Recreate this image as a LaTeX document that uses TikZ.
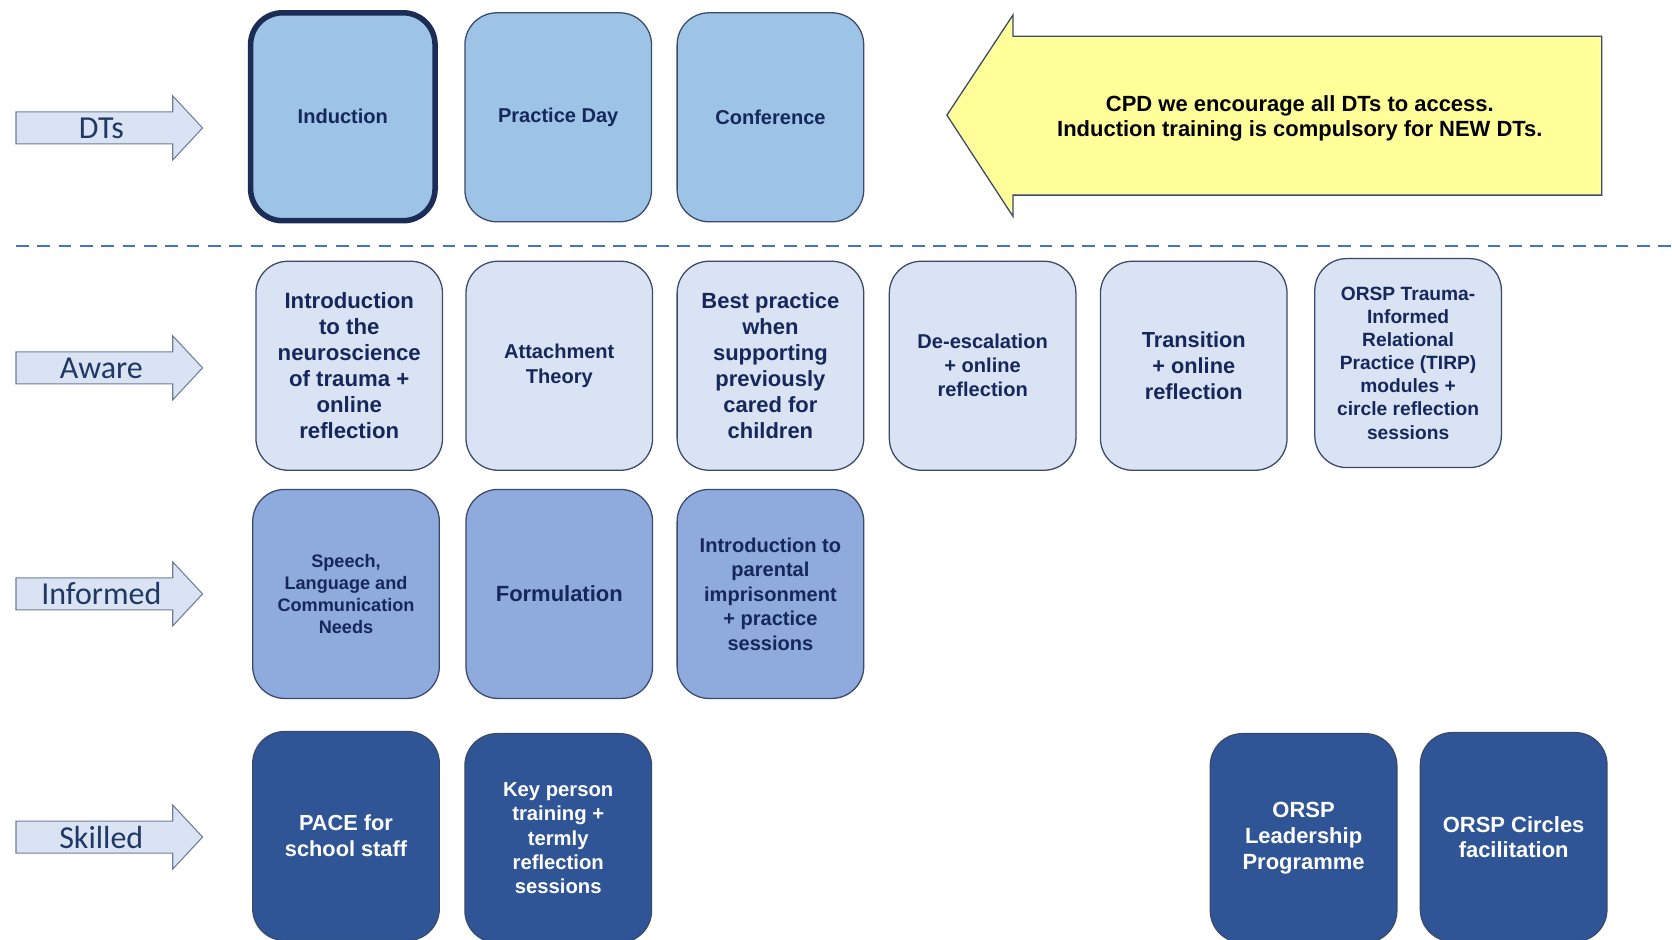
\documentclass[tikz,border=0pt]{standalone}
\usepackage{fontspec}
\setmainfont{Liberation Sans}
\newfontfamily\calfont{Carlito}
\definecolor{toprow}{HTML}{9DC3E6}
\definecolor{awarefill}{HTML}{DAE3F3}
\definecolor{informedfill}{HTML}{8FAADC}
\definecolor{skilledfill}{HTML}{2F5597}
\definecolor{boxline}{HTML}{3B4A6B}
\definecolor{navytext}{HTML}{16275C}
\definecolor{thickline}{HTML}{1B2D55}
\definecolor{yellowfill}{HTML}{FFFF99}
\definecolor{dashblue}{HTML}{4472C4}
\definecolor{arrowline}{HTML}{6F7F99}
\definecolor{labelcol}{HTML}{1F3864}
\begin{document}
\begin{tikzpicture}[x=0.5pt,y=-0.5pt,
  fs/.style 2 args={font=\bfseries\fontsize{#1}{#2}\selectfont},
  box/.style={draw=boxline, line width=0.6pt, rounded corners=15pt,
    minimum width=87.5pt, minimum height=98pt, align=center, inner sep=2pt,
    text=navytext},
  topbox/.style={box, fill=toprow},
  awarebox/.style={box, fill=awarefill},
  informedbox/.style={box, fill=informedfill},
  skilledbox/.style={box, fill=skilledfill, text=white},
  lvlarrow/.style={draw=arrowline, line width=0.5pt, fill=awarefill},
  lvllabel/.style={font=\calfont\fontsize{15}{18}\selectfont, text=labelcol, inner sep=0pt}
]
\useasboundingbox (0,0) rectangle (1568,881);

% level arrows
\foreach \yy/\nm/\txt in {120/dts/DTs, 345/aware/Aware, 557/informed/Informed, 785/skilled/Skilled}{
  \draw[lvlarrow] (15,\yy-15) -- (162,\yy-15) -- (162,\yy-30) -- (190,\yy) -- (162,\yy+30)
     -- (162,\yy+15) -- (15,\yy+15) -- cycle;
  \node[lvllabel] (lbl\nm) at (95,\yy) {\txt};
}

% top row
\node[topbox, fs={9.4}{11}, draw=thickline, line width=2.6pt, minimum width=86.5pt, minimum height=97.5pt]
  (induction) at (321.5,109.5) {Induction};
\node[topbox, fs={9.4}{11}] (practice) at (523.5,110) {Practice Day};
\node[topbox, fs={9.4}{11}] (conference) at (722.5,110) {Conference};

% yellow arrow
\draw[draw=boxline, line width=0.6pt, fill=yellowfill]
  (888,108) -- (950,14) -- (950,34) -- (1502,34) -- (1502,183) -- (950,183) -- (950,203) -- cycle;
\node[fs={10.3}{12}, align=center, text=black] (cpd) at (1219,111)
  {CPD we encourage all DTs to access.\\Induction training is compulsory for NEW DTs.};

% dashed separator
\coordinate (sepL) at (15,231);
\coordinate (sepR) at (1568,231);
\draw[dashblue, line width=1pt, dash pattern=on 6pt off 4pt] (sepL) -- (sepR);

% aware row
\node[awarebox, fs={10.4}{12.25}] (neuro) at (327.5,343) {Introduction\\to the\\neuroscience\\of trauma +\\online\\reflection};
\node[awarebox, fs={9.4}{12}] (attach) at (524.5,343) {Attachment\\Theory};
\node[awarebox, fs={10.3}{12.25}] (best) at (722.5,343) {Best practice\\when\\supporting\\previously\\cared for\\children};
\node[awarebox, fs={9.4}{11.25}] (deesc) at (921.5,343) {De-escalation\\+ online\\reflection};
\node[awarebox, fs={10.2}{12.25}] (trans) at (1119.5,343) {Transition\\+ online\\reflection};
\node[awarebox, fs={9}{10.85}] (tirp) at (1320.5,340.5) {ORSP Trauma-\\Informed\\Relational\\Practice (TIRP)\\modules +\\circle reflection\\sessions};

% informed row
\node[informedbox, fs={8.5}{10.25}] (slcn) at (324.5,557) {Speech,\\Language and\\Communication\\Needs};
\node[informedbox, fs={10.3}{12}] (form) at (524.5,557) {Formulation};
\node[informedbox, fs={9.4}{11.5}] (parental) at (722.5,557) {Introduction to\\parental\\imprisonment\\+ practice\\sessions};

% skilled row
\node[skilledbox, fs={10.2}{12}] (pace) at (324.5,784) {PACE for\\school staff};
\node[skilledbox, fs={9.5}{11.4}] (keyp) at (523.5,786) {Key person\\training +\\termly\\reflection\\sessions};
\node[skilledbox, fs={10.3}{12.25}] (lead) at (1222.5,786) {ORSP\\Leadership\\Programme};
\node[skilledbox, fs={10.3}{12}] (circ) at (1419.5,785) {ORSP Circles\\facilitation};
\end{tikzpicture}
\end{document}
